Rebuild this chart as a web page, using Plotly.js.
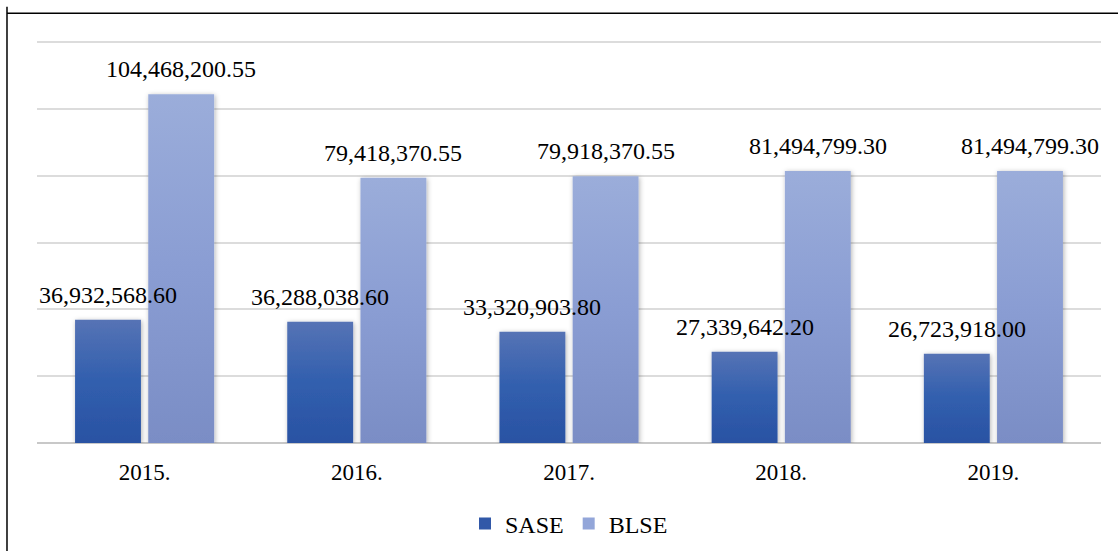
<!DOCTYPE html>
<html>
<head>
<meta charset="utf-8">
<script src="https://cdn.plot.ly/plotly-3.0.1.min.js"></script>
<style>
html,body{margin:0;padding:0;background:#fff;}
#chart{width:1118px;height:551px;}
</style>
</head>
<body>
<div id="chart"></div>
<script>
const years = ["2015.", "2016.", "2017.", "2018.", "2019."];
const sase = [36932568.60, 36288038.60, 33320903.80, 27339642.20, 26723918.00];
const blse = [104468200.55, 79418370.55, 79918370.55, 81494799.30, 81494799.30];
const saseLabels = ["36,932,568.60", "36,288,038.60", "33,320,903.80", "27,339,642.20", "26,723,918.00"];
const blseLabels = ["104,468,200.55", "79,418,370.55", "79,918,370.55", "81,494,799.30", "81,494,799.30"];

const serif = "Liberation Serif, Times New Roman, serif";
const bargap = 0.31;
const off = (1 - bargap) / 4;

const traces = [
  {type: "bar", name: "SASE", x: years, y: sase, marker: {color: "#3158a8"}, hoverinfo: "skip"},
  {type: "bar", name: "BLSE", x: years, y: blse, marker: {color: "#93a6d9"}, hoverinfo: "skip"}
];

const annotations = [];
years.forEach((yr, i) => {
  annotations.push({x: i - off, y: sase[i], xref: "x", yref: "y", text: saseLabels[i], showarrow: false,
    yanchor: "bottom", yshift: 10, font: {family: serif, size: 24, color: "#000"}});
  annotations.push({x: i + off, y: blse[i], xref: "x", yref: "y", text: blseLabels[i], showarrow: false,
    yanchor: "bottom", yshift: 10, font: {family: serif, size: 24, color: "#000"}});
});

const layout = {
  width: 1118, height: 551,
  margin: {l: 37, r: 17, t: 39, b: 108, autoexpand: false},
  paper_bgcolor: "#fff", plot_bgcolor: "#fff",
  barmode: "group", bargap: bargap, bargroupgap: 0.1,
  font: {family: serif, size: 22, color: "#000"},
  xaxis: {type: "category", showgrid: false, zeroline: false, showline: false, ticks: "",
    ticklabelstandoff: 13, automargin: false,
    tickfont: {family: serif, size: 23, color: "#000"}},
  yaxis: {range: [0, 121000000], tickvals: [0, 20000000, 40000000, 60000000, 80000000, 100000000, 120000000],
    showticklabels: false, showgrid: true, automargin: false,
    gridcolor: "#dcdcdc", gridwidth: 2, zeroline: true, zerolinecolor: "#c8c8c8", zerolinewidth: 2, ticks: ""},
  showlegend: true,
  legend: {orientation: "h", x: 0.5, xanchor: "center", y: -0.2, yanchor: "middle",
    font: {family: serif, size: 24, color: "#000"}, itemwidth: 30, tracegroupgap: 0},
  annotations: annotations,
  shapes: [
    {type: "line", xref: "paper", yref: "paper", x0: -0.0282, x1: -0.0282, y0: 1.08, y1: -0.3, line: {color: "#000", width: 1.5}},
    {type: "line", xref: "paper", yref: "paper", x0: -0.0282, x1: 1.02, y0: 1.0636, y1: 1.0636, line: {color: "#000", width: 1.5}}
  ]
};

const gd = document.getElementById("chart");
Plotly.newPlot(gd, traces, layout, {staticPlot: true, displayModeBar: false}).then(() => {
  const svg = gd.querySelector("svg.main-svg");
  let defs = svg.querySelector("defs");
  const ns = "http://www.w3.org/2000/svg";
  function grad(id, c1, c2, c3) {
    const g = document.createElementNS(ns, "linearGradient");
    g.setAttribute("id", id);
    g.setAttribute("x1", "0"); g.setAttribute("y1", "0");
    g.setAttribute("x2", "0"); g.setAttribute("y2", "1");
    [[0, c1], [0.5, c2], [1, c3]].forEach(([o, c]) => {
      const s = document.createElementNS(ns, "stop");
      s.setAttribute("offset", o); s.setAttribute("stop-color", c);
      g.appendChild(s);
    });
    defs.appendChild(g);
  }
  grad("gSASE", "#5673b5", "#315fae", "#2a52a3");
  grad("gBLSE", "#9badda", "#8a9dd3", "#7a8dc5");
  const f = document.createElementNS(ns, "filter");
  f.setAttribute("id", "barShadow");
  f.setAttribute("x", "-20%"); f.setAttribute("y", "-20%");
  f.setAttribute("width", "140%"); f.setAttribute("height", "140%");
  const ds = document.createElementNS(ns, "feDropShadow");
  ds.setAttribute("dx", "1"); ds.setAttribute("dy", "1");
  ds.setAttribute("stdDeviation", "2.5");
  ds.setAttribute("flood-color", "#000"); ds.setAttribute("flood-opacity", "0.3");
  f.appendChild(ds);
  defs.appendChild(f);
  const groups = gd.querySelectorAll(".barlayer g.trace.bars");
  const ids = ["gSASE", "gBLSE"];
  groups.forEach((g, k) => {
    g.querySelectorAll("path").forEach(p => {
      p.style.fill = "url(#" + ids[k] + ")";
      p.setAttribute("filter", "url(#barShadow)");
    });
  });
});
</script>
</body>
</html>
